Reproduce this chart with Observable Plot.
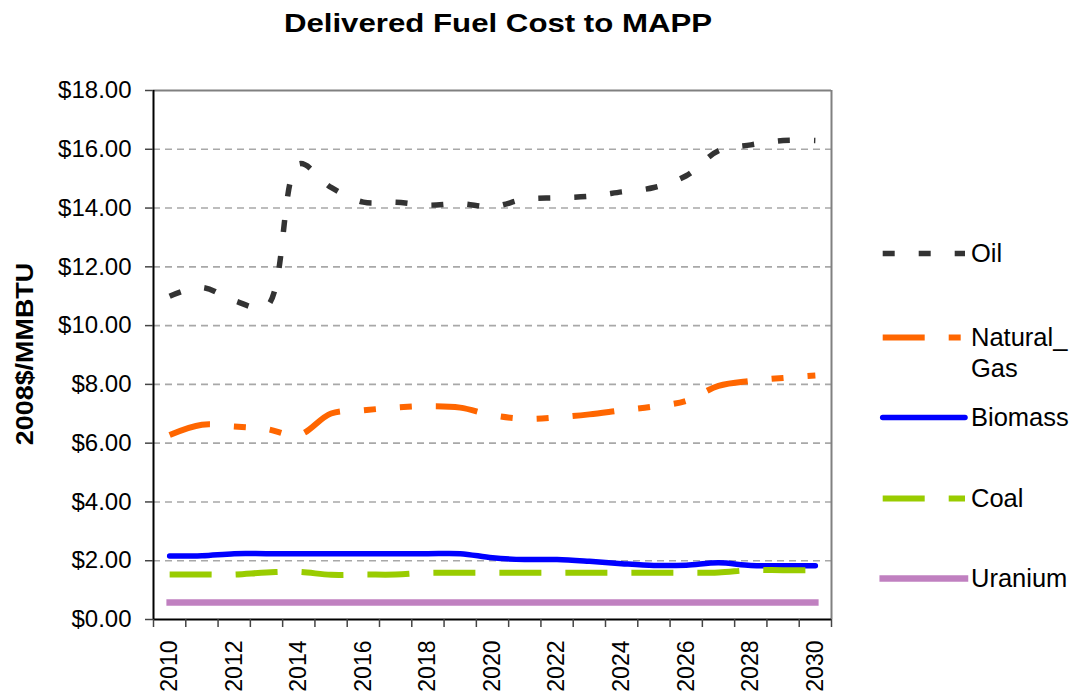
<!DOCTYPE html>
<html>
<head>
<meta charset="utf-8">
<script src="https://cdn.jsdelivr.net/npm/d3@7"></script>
<script src="https://cdn.jsdelivr.net/npm/@observablehq/plot@0.6"></script>
<style>
  html, body { margin: 0; padding: 0; background: #fff; }
  body { font-family: "Liberation Sans", Arial, sans-serif; color: #000; }
  #wrap { position: relative; width: 1074px; height: 697px; overflow: hidden; }
  #chart { position: absolute; left: 0; top: 0; }
  #title { position: absolute; left: 0; top: 10px; width: 996px; text-align: center;
           font-weight: bold; font-size: 26px; line-height: 26px; white-space: nowrap;
           transform: scaleX(1.2); transform-origin: 498px 0; }
  #ylabel { position: absolute; left: 25px; top: 354px; transform: translate(-50%, -50%) rotate(-90deg) scaleX(1.17);
            font-weight: bold; font-size: 23px; white-space: nowrap; line-height: 23px; }
  #legend { position: absolute; left: 0; top: 0; }
  .lg-item { position: absolute; left: 878px; height: 31px; }
  .lg-item svg { position: absolute; left: 0; top: 0; overflow: visible; }
  .lg-text { position: absolute; left: 93px; top: 0; font-size: 25.5px; line-height: 31px; white-space: nowrap; }
</style>
</head>
<body>
<div id="wrap">
  <div id="chart"></div>
  <div id="title">Delivered Fuel Cost to MAPP</div>
  <div id="ylabel">2008$/MMBTU</div>
  <div id="legend"></div>
</div>
<script>
// ---- data ----
const years = [2010, 2011, 2012, 2013, 2014, 2015, 2016, 2017, 2018, 2019, 2020,
               2021, 2022, 2023, 2024, 2025, 2026, 2027, 2028, 2029, 2030];
const xTickLabels = [2010, 2012, 2014, 2016, 2018, 2020, 2022, 2024, 2026, 2028, 2030];
const yTickValues = [0, 2, 4, 6, 8, 10, 12, 14, 16, 18];
const seriesNames = ["Oil", "Natural_Gas", "Biomass", "Coal", "Uranium"];

const oil      = [11.0, 11.3, 10.85, 10.65, 15.5, 14.7, 14.2, 14.2, 14.1, 14.15, 14.05,
                  14.3, 14.35, 14.4, 14.55, 14.7, 15.1, 15.95, 16.15, 16.3, 16.3];
const naturalGas = [6.28, 6.63, 6.57, 6.48, 6.28, 7.01, 7.12, 7.21, 7.26, 7.21, 6.95,
                  6.83, 6.88, 6.98, 7.12, 7.25, 7.44, 7.95, 8.12, 8.22, 8.3];
const biomass  = [2.16, 2.17, 2.24, 2.24, 2.24, 2.24, 2.24, 2.24, 2.24, 2.24, 2.1,
                  2.04, 2.04, 1.98, 1.9, 1.84, 1.85, 1.93, 1.84, 1.83, 1.83];
const coal     = [1.53, 1.53, 1.53, 1.6, 1.62, 1.52, 1.53, 1.53, 1.59, 1.59, 1.59,
                  1.59, 1.59, 1.59, 1.59, 1.59, 1.59, 1.6, 1.68, 1.68, 1.68];
const uranium  = [0.58, 0.58, 0.58, 0.58, 0.58, 0.58, 0.58, 0.58, 0.58, 0.58, 0.58,
                  0.58, 0.58, 0.58, 0.58, 0.58, 0.58, 0.58, 0.58, 0.58, 0.58];
const seriesValues = [oil, naturalGas, biomass, coal, uranium];

// ---- styles ----
const seriesStyle = {
  "Oil":         { stroke: "#333333", width: 5.5, dash: "12,24", cap: "butt" },
  "Natural_Gas": { stroke: "#FF6600", width: 6,   dash: "42,24,12,24,12,24", cap: "butt" },
  "Biomass":     { stroke: "#0000FF", width: 5.5, dash: null, cap: "round" },
  "Coal":        { stroke: "#99CC00", width: 6,   dash: "42,24", cap: "butt" },
  "Uranium":     { stroke: "#C080C0", width: 6.5, dash: null, cap: "square" }
};

const rows = [];
seriesNames.forEach((name, i) => {
  seriesValues[i].forEach((v, j) => rows.push({ series: name, year: years[j], value: v }));
});

const boundaries = years.map(y => y - 0.5).concat([years[years.length - 1] + 0.5]);
const xMin = boundaries[0], xMax = boundaries[boundaries.length - 1];

const lineMarks = seriesNames.map(name => {
  const s = seriesStyle[name];
  return Plot.line(rows.filter(d => d.series === name), {
    x: "year", y: "value", stroke: s.stroke, strokeWidth: s.width,
    strokeDasharray: s.dash || undefined, strokeLinecap: s.cap, strokeLinejoin: "round",
    curve: "catmull-rom"
  });
});

const chart = Plot.plot({
  width: 1074,
  height: 697,
  marginLeft: 153,
  marginRight: 243,
  marginTop: 90,
  marginBottom: 78,
  style: { fontFamily: "'Liberation Sans', Arial, sans-serif", color: "#000", background: "#fff" },
  x: { type: "linear", domain: [xMin, xMax] },
  y: { domain: [0, 18] },
  marks: [
    Plot.gridY(yTickValues.filter(t => t > 0 && t < 18), {
      stroke: "#a8a8a8", strokeOpacity: 1, strokeWidth: 1.6, strokeDasharray: "7,5"
    }),
    Plot.ruleY([18], { stroke: "#808080", strokeWidth: 2 }),
    Plot.ruleX([xMax], { stroke: "#808080", strokeWidth: 2 }),
    ...lineMarks,
    Plot.ruleX([xMin], { stroke: "#000", strokeWidth: 2 }),
    Plot.ruleY([0], { stroke: "#000", strokeWidth: 2 }),
    Plot.axisY({
      ticks: yTickValues, tickFormat: d => "$" + d.toFixed(2), tickSize: 8, tickPadding: 14,
      fontSize: 24, label: null, stroke: "#444", strokeWidth: 1.5
    }),
    Plot.axisX({
      ticks: boundaries, tickFormat: () => "", tickSize: 8, label: null, stroke: "#444", strokeWidth: 1.5
    }),
    Plot.axisX({
      ticks: xTickLabels, tickFormat: d => String(d), tickSize: 0, tickPadding: 21,
      tickRotate: -90, fontSize: 23, label: null, ariaLabel: "year-labels"
    })
  ]
});
document.getElementById("chart").appendChild(chart);

// stretch rotated year labels along their reading direction, as in the reference
chart.querySelectorAll('g[aria-label="year-labels"] text').forEach(t => {
  const tr = t.getAttribute("transform") || "";
  t.setAttribute("transform", tr + " scale(1.15,1)");
});

// ---- legend ----
const legendTops = { "Oil": 253, "Natural_Gas": 337, "Biomass": 417, "Coal": 498, "Uranium": 578 };
const legend = document.getElementById("legend");
seriesNames.forEach(name => {
  const s = seriesStyle[name];
  const item = document.createElement("div");
  item.className = "lg-item";
  item.style.top = (legendTops[name] - 15.5) + "px";
  const svgNS = "http://www.w3.org/2000/svg";
  const svg = document.createElementNS(svgNS, "svg");
  svg.setAttribute("width", "90");
  svg.setAttribute("height", "31");
  const ln = document.createElementNS(svgNS, "line");
  ln.setAttribute("x1", "4.7"); ln.setAttribute("x2", "87");
  ln.setAttribute("y1", "15.5"); ln.setAttribute("y2", "15.5");
  ln.setAttribute("stroke", s.stroke);
  ln.setAttribute("stroke-width", s.width);
  ln.setAttribute("stroke-linecap", s.cap);
  if (s.dash) ln.setAttribute("stroke-dasharray", s.dash);
  svg.appendChild(ln);
  item.appendChild(svg);
  const txt = document.createElement("div");
  txt.className = "lg-text";
  txt.innerHTML = name.replace("_", "_<br>");
  item.appendChild(txt);
  legend.appendChild(item);
});
</script>
</body>
</html>
